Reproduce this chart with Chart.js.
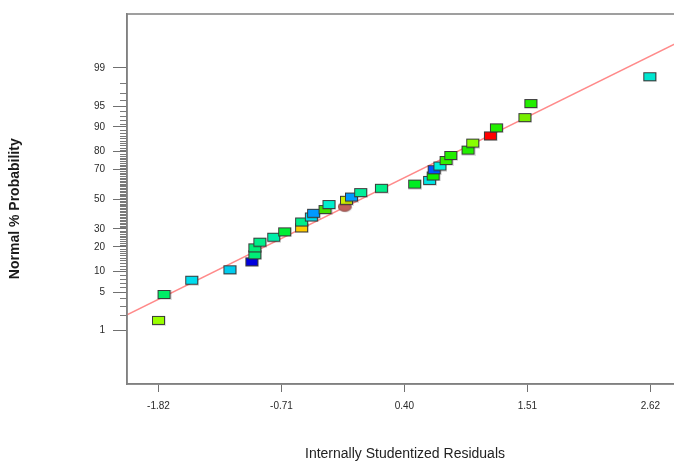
<!DOCTYPE html>
<html>
<head>
<meta charset="utf-8">
<script src="https://cdn.jsdelivr.net/npm/chart.js@4.4.0/dist/chart.umd.min.js"></script>
<style>
  html, body { margin: 0; padding: 0; background: #fff; overflow: hidden; }
  canvas { display: block; }
</style>
</head>
<body>
<canvas id="probPlot" width="690" height="466"></canvas>
<script>
// residuals (x) and normal % probability (y)
const residuals = [
  -1.82, -1.77, -1.52, -1.175, -0.977, -0.95, -0.95, -0.905, -0.78, -0.681,
  -0.528, -0.528, -0.44, -0.42, -0.317, -0.135, -0.281, -0.123, -0.078, 0.005,
  0.192, 0.492, 0.627, 0.659, 0.668, 0.72, 0.776, 0.818, 0.974, 1.016,
  1.176, 1.23, 1.487, 1.541, 2.614
];
const probabilities = [
  1.6, 4.6, 7.6, 10.6, 13.4, 16.3, 19.5, 22.4, 25.1, 28.2,
  30.6, 34.4, 37.7, 40.2, 42.8, 44.4, 46.3, 49.3, 51.6, 54.7,
  57.7, 60.6, 63.1, 66.0, 70.0, 72.2, 75.4, 78.1, 80.8, 84.0,
  86.9, 89.7, 92.6, 95.5, 98.5
];
const pointColors = [
  "#99ff00", "#00ee66", "#00ddee", "#00ccee", "#0000dd", "#00ee77", "#00ee77", "#00ee88", "#00eeaa", "#00ee33",
  "#ffcc00", "#00ee88", "#00ddee", "#0099ff", "#44dd00", "#c0605a", "#00eecc", "#ccee00", "#0099ff", "#00ee99",
  "#00ee88", "#00ee22", "#00e5e5", "#11ee00", "#0055ff", "#00eedd", "#33ee00", "#22ee00", "#22ee00", "#88ff00",
  "#ff0000", "#22ee00", "#77ee00", "#22ee00", "#00e6d0"
];
// the one point drawn as an ellipse instead of a box
const ellipsePoints = [15];

const xTickValues = [-1.82, -0.71, 0.40, 1.51, 2.62];
const yTickLabels = [1, 5, 10, 20, 30, 50, 70, 80, 90, 95, 99];

// reference line, ends at the edges of the plot box
const fitLineX = [-2.104, 2.914];
const fitLineProb = [2.04, 99.76];

// inverse normal cdf (Acklam)
function probit(p) {
  const a = [-39.69683028665376, 220.9460984245205, -275.9285104469687, 138.3577518672690, -30.66479806614716, 2.506628277459239];
  const b = [-54.47609879822406, 161.5858368580409, -155.6989798598866, 66.80131188771972, -13.28068155288572];
  const c = [-0.007784894002430293, -0.3223964580411365, -2.400758277161838, -2.549732539343734, 4.374664141464968, 2.938163982698783];
  const d = [0.007784695709041462, 0.3224671290700398, 2.445134137142996, 3.754408661907416];
  const pl = 0.02425;
  let q, r;
  if (p < pl) {
    q = Math.sqrt(-2 * Math.log(p));
    return (((((c[0]*q+c[1])*q+c[2])*q+c[3])*q+c[4])*q+c[5]) / ((((d[0]*q+d[1])*q+d[2])*q+d[3])*q+1);
  }
  if (p > 1 - pl) {
    q = Math.sqrt(-2 * Math.log(1 - p));
    return -(((((c[0]*q+c[1])*q+c[2])*q+c[3])*q+c[4])*q+c[5]) / ((((d[0]*q+d[1])*q+d[2])*q+d[3])*q+1);
  }
  q = p - 0.5;
  r = q * q;
  return (((((a[0]*r+a[1])*r+a[2])*r+a[3])*r+a[4])*r+a[5])*q / (((((b[0]*r+b[1])*r+b[2])*r+b[3])*r+b[4])*r+1);
}

// small box / ellipse markers
function makeMarker(color, ellipse) {
  const cv = document.createElement("canvas");
  cv.width = 15;
  cv.height = 11;
  const g = cv.getContext("2d");
  g.fillStyle = "rgba(0,0,0,0.12)";
  g.strokeStyle = ellipse ? "#8a4a46" : "#3a3a3a";
  g.lineWidth = 1;
  if (ellipse) {
    g.beginPath();
    g.ellipse(8, 6, 6.5, 4.5, 0, 0, Math.PI * 2);
    g.fill();
    g.fillStyle = color;
    g.beginPath();
    g.ellipse(7, 5, 6.5, 4.5, 0, 0, Math.PI * 2);
    g.fill();
    g.stroke();
  } else {
    g.fillRect(1, 1, 14, 10);
    g.fillStyle = color;
    g.fillRect(1.5, 1.5, 12, 8);
    g.strokeRect(1.5, 1.5, 12, 8);
  }
  return cv;
}
const markers = pointColors.map((c, i) => makeMarker(c, ellipsePoints.includes(i)));

const points = residuals.map((x, i) => ({ x: x, y: probit(probabilities[i] / 100) }));
const fitLine = fitLineX.map((x, i) => ({ x: x, y: probit(fitLineProb[i] / 100) }));

const tickFont = { family: "'Liberation Sans', Arial, sans-serif", size: 10 };
const titleFont = { family: "'Liberation Sans', Arial, sans-serif", size: 14 };

// short minor ticks at every whole percent, plus the closed box
const frameAndMinorTicks = {
  id: "frameAndMinorTicks",
  afterDraw(chart) {
    const ctx = chart.ctx;
    const area = chart.chartArea;
    const y = chart.scales.y;
    ctx.save();
    ctx.strokeStyle = "#7a7a7a";
    ctx.lineWidth = 1;
    for (let p = 1; p <= 99; p++) {
      if (yTickLabels.includes(p)) continue;
      const py = Math.round(y.getPixelForValue(probit(p / 100))) + 0.5;
      ctx.beginPath();
      ctx.moveTo(area.left - 7, py);
      ctx.lineTo(area.left, py);
      ctx.stroke();
    }
    ctx.strokeStyle = "#808080";
    ctx.lineWidth = 1.5;
    ctx.strokeRect(area.left, area.top, area.right - area.left, area.bottom - area.top);
    ctx.restore();
  }
};

new Chart(document.getElementById("probPlot"), {
  type: "scatter",
  data: {
    datasets: [
      {
        label: "Residuals",
        data: points,
        pointStyle: markers,
        pointRadius: 6,
        pointHoverRadius: 6
      },
      {
        type: "line",
        label: "Normal line",
        data: fitLine,
        borderColor: "#ff8a8a",
        borderWidth: 1.6,
        pointRadius: 0,
        fill: false
      }
    ]
  },
  options: {
    responsive: false,
    animation: false,
    devicePixelRatio: 1,
    layout: { padding: { top: 13, right: 5, left: 0, bottom: 0 } },
    plugins: {
      legend: { display: false },
      tooltip: { enabled: false }
    },
    scales: {
      x: {
        type: "linear",
        min: -2.104,
        max: 2.914,
        afterBuildTicks(scale) {
          scale.ticks = xTickValues.map(v => ({ value: v }));
        },
        afterFit(scale) {
          scale.height = 82;
        },
        grid: { drawOnChartArea: false, drawTicks: true, tickLength: 8, tickColor: "#707070" },
        border: { display: true, color: "#808080", width: 1.5 },
        ticks: {
          autoSkip: false,
          maxRotation: 0,
          padding: 8,
          color: "#2a2a2a",
          font: tickFont,
          callback: v => v.toFixed(2)
        },
        title: {
          display: true,
          text: "Internally Studentized Residuals",
          color: "#222",
          font: titleFont,
          padding: { top: 0, bottom: 3 }
        }
      },
      y: {
        type: "linear",
        min: -3.27,
        max: 3.28,
        afterBuildTicks(scale) {
          scale.ticks = yTickLabels.map(p => ({ value: probit(p / 100) }));
        },
        afterFit(scale) {
          scale.width = 127;
        },
        grid: { drawOnChartArea: false, drawTicks: true, tickLength: 14, tickColor: "#707070" },
        border: { display: true, color: "#808080", width: 1.5 },
        ticks: {
          autoSkip: false,
          padding: 8,
          color: "#2a2a2a",
          font: tickFont,
          callback: (v, i) => String(yTickLabels[i])
        },
        title: {
          display: true,
          // trailing spaces nudge the rotated label down, as in the original
          text: "Normal % Probability     ",
          color: "#1a1a1a",
          font: { family: "'Liberation Sans', Arial, sans-serif", size: 14, weight: "bold" },
          padding: { top: 7, bottom: 0 }
        }
      }
    }
  },
  plugins: [frameAndMinorTicks]
});
</script>
</body>
</html>
